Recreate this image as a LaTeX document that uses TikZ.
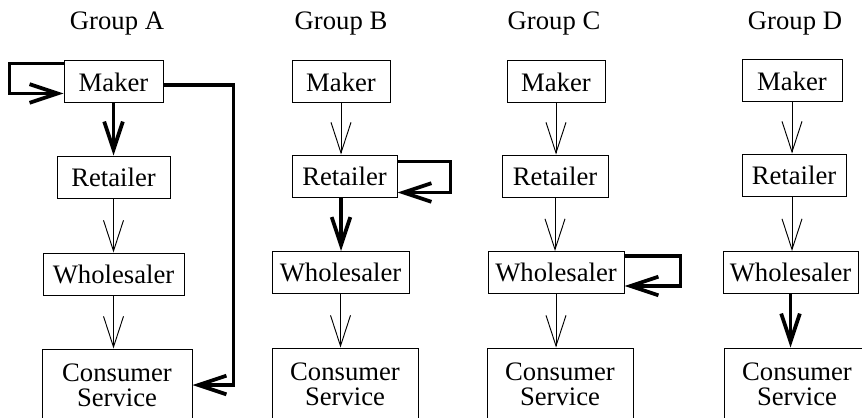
\documentclass[tikz,border=0pt]{standalone}
\usepackage{fontspec}
\setmainfont{Liberation Serif}
\usetikzlibrary{arrows.meta}

\begin{document}
\begin{tikzpicture}[x=0.75pt, y=-0.75pt,
    box/.style={draw, line width=0.75pt, inner sep=0pt, align=center,
        minimum height=31.5pt, font=\fontsize{20}{19}\selectfont},
    title/.style={font=\fontsize{20}{19}\selectfont},
    flow/.style={line width=0.7pt, -{Straight Barb[length=23pt, width=15pt]}},
    heavy/.style={line width=2.8pt, -{Straight Barb[length=21pt, width=14pt]}}]
    \clip (0, 0) rectangle (862, 417);

    % Group A
    \node[title] (titleA) at (117, 24) {Group A};
    \node[box, minimum width=74.25pt] (makerA) at (113.5, 82) {Maker};
    \node[box, minimum width=84.75pt] (retA) at (113.5, 177) {Retailer};
    \node[box, minimum width=105.75pt] (wholA) at (113.5, 274) {Wholesaler};
    \node[box, minimum width=112.5pt, minimum height=54pt] (consA) at (117, 385) {Consumer\\Service};

    \draw[heavy] (makerA.south) -- (makerA.south |- retA.north);
    \draw[flow] (retA.south) -- (retA.south |- wholA.north);
    \draw[flow] (wholA.south) -- (wholA.south |- consA.north);
    % Loop back into the maker and the long way round
    \draw[heavy] ([yshift=-2.25pt]makerA.north west) -- ++(-40.5pt, 0) |- ([yshift=7.5pt]makerA.south west);
    \draw[heavy] ([yshift=-2pt]makerA.east) -- ++(52.5pt, 0) |- (consA.east);

    % Group B
    \node[title] (titleB) at (341, 24) {Group B};
    \node[box, minimum width=73.5pt] (makerB) at (341, 82) {Maker};
    \node[box, minimum width=78.75pt] (retB) at (344.5, 176) {Retailer};
    \node[box, minimum width=102.75pt] (wholB) at (340.5, 272.5) {Wholesaler};
    \node[box, minimum width=109.5pt, minimum height=54pt] (consB) at (345, 384) {Consumer\\Service};

    \draw[flow] (makerB.south) -- (makerB.south |- retB.north);
    \draw[heavy] (makerB.south |- retB.south) -- (makerB.south |- wholB.north);
    \draw[flow] (wholB.south) -- (wholB.south |- consB.north);
    % Loop on the retailer
    \draw[heavy] ([yshift=-5.25pt]retB.north east) -- ++(39.75pt, 0) |- ([yshift=3.75pt]retB.south east);

    % Group C
    \node[title] (titleC) at (554, 24) {Group C};
    \node[box, minimum width=73.5pt] (makerC) at (556, 82) {Maker};
    \node[box, minimum width=79.5pt] (retC) at (555, 176) {Retailer};
    \node[box, minimum width=102pt] (wholC) at (556, 272.5) {Wholesaler};
    \node[box, minimum width=109.5pt, minimum height=54pt] (consC) at (560, 384) {Consumer\\Service};

    \draw[flow] (makerC.south) -- (makerC.south |- retC.north);
    \draw[flow] (retC.south) -- (retC.south |- wholC.north);
    \draw[flow] (wholC.south) -- (wholC.south |- consC.north);
    % Loop on the wholesaler
    \draw[heavy] ([yshift=-3.75pt]wholC.north east) -- ++(42pt, 0) |- ([yshift=6pt]wholC.south east);

    % Group D
    \node[title] (titleD) at (795, 24) {Group D};
    \node[box, minimum width=75pt] (makerD) at (792, 81) {Maker};
    \node[box, minimum width=78pt] (retD) at (794, 175) {Retailer};
    \node[box, minimum width=101.25pt] (wholD) at (790.5, 272.5) {Wholesaler};
    \node[box, minimum width=109.5pt, minimum height=54pt] (consD) at (797, 384) {Consumer\\Service};

    \draw[flow] (makerD.south) -- (makerD.south |- retD.north);
    \draw[flow] (makerD.south |- retD.south) -- (makerD.south |- wholD.north);
    \draw[heavy] (wholD.south) -- (wholD.south |- consD.north);
\end{tikzpicture}
\end{document}
